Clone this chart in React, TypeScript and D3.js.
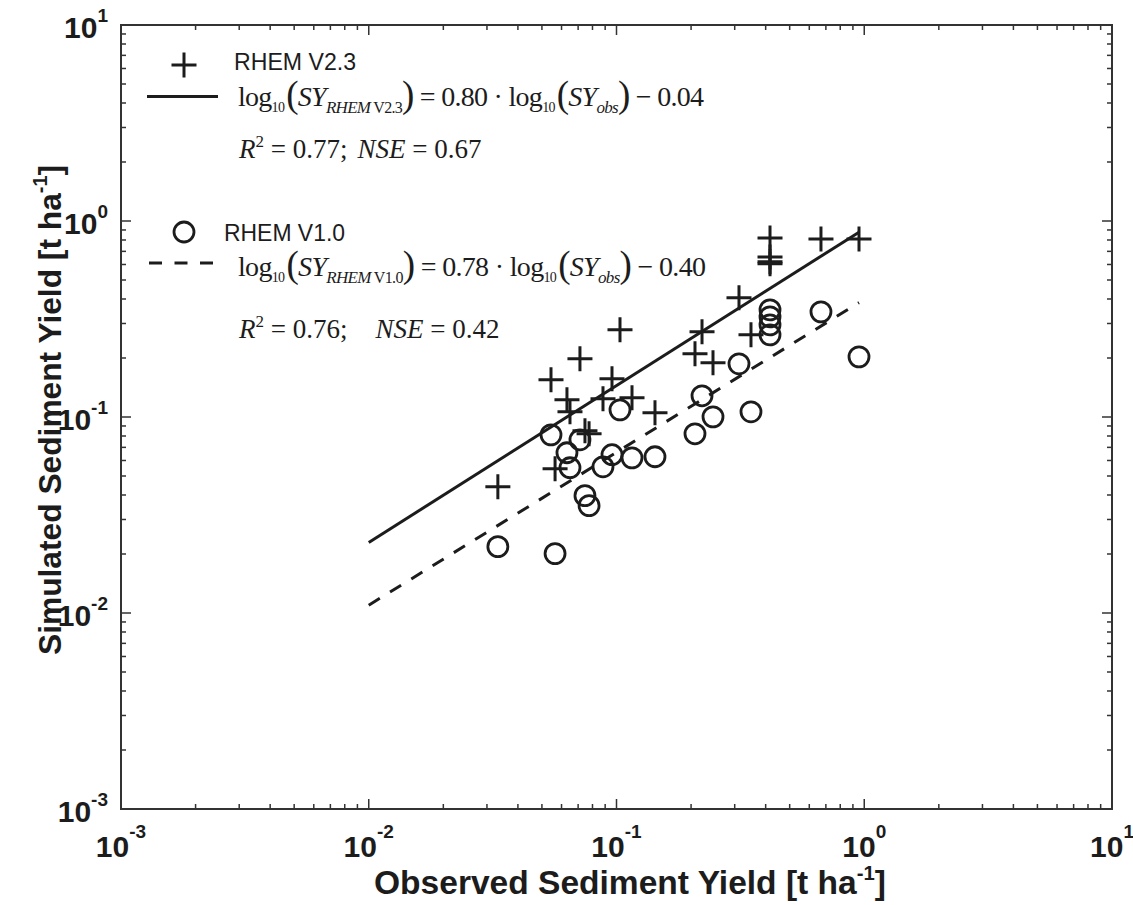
import React from "react";
import * as d3 from "d3";

// observed sediment yield (t/ha) for each plot, shared by both model runs
const observed = [
  0.0332, 0.0544, 0.0565, 0.0631, 0.0649, 0.0712, 0.0746, 0.0775, 0.0882, 0.0959, 0.1033, 0.1155,
  0.143, 0.2074, 0.2214, 0.2452, 0.3122, 0.349, 0.4165, 0.4165, 0.4165, 0.4165, 0.6688, 0.9524,
];
// simulated by RHEM V2.3 (crosses)
const simV23 = [
  0.0441, 0.1547, 0.0544, 0.1224, 0.1063, 0.198, 0.0851, 0.0821, 0.1238, 0.1566, 0.2784, 0.1253,
  0.1051, 0.2101, 0.272, 0.189, 0.4054, 0.2626, 0.82, 0.6559, 0.6043, 0.6187, 0.8102, 0.8102,
];
// simulated by RHEM V1.0 (circles)
const simV10 = [
  0.0218, 0.0811, 0.0201, 0.0657, 0.0551, 0.0765, 0.0397, 0.0353, 0.0557, 0.0642, 0.1088, 0.0619,
  0.0627, 0.0821, 0.1283, 0.1002, 0.1868, 0.1063, 0.3521, 0.3243, 0.2953, 0.2626, 0.3439, 0.2028,
];
const fitV23 = { slope: 0.8, intercept: -0.04 };
const fitV10 = { slope: 0.78, intercept: -0.4 };
const fitStart = 0.01;
const axisDomain = [1e-3, 1e1];
const decades = [-3, -2, -1, 0, 1];

const SANS = "'Liberation Sans', Arial, sans-serif";
const SERIF = "'Liberation Serif', 'Times New Roman', serif";
const INK = "#1c1c1c";

function Cross({ cx, cy, s = 12.5 }: { cx: number; cy: number; s?: number }) {
  return (
    <path
      d={`M${cx - s},${cy}h${2 * s}M${cx},${cy - s}v${2 * s}`}
      stroke={INK}
      strokeWidth={3}
      fill="none"
    />
  );
}

function Equation({ x, y, sub, slope, icpt, len }: any) {
  return (
    <text x={x} y={y} fontFamily={SERIF} fontSize={28} fill={INK} textLength={len} lengthAdjust="spacing">
      log
      <tspan fontSize={14} dy={6}>10</tspan>
      <tspan fontSize={37} dy={-5} dx={2}>(</tspan>
      <tspan fontStyle="italic" dy={-1}>SY</tspan>
      <tspan fontSize={17} dy={7} fontStyle="italic">RHEM</tspan>
      <tspan fontSize={16}> {sub}</tspan>
      <tspan fontSize={37} dy={-6}>)</tspan>
      <tspan dy={-1}>{` = ${slope} · log`}</tspan>
      <tspan fontSize={14} dy={6}>10</tspan>
      <tspan fontSize={37} dy={-5} dx={2}>(</tspan>
      <tspan fontStyle="italic" dy={-1}>SY</tspan>
      <tspan fontSize={17} dy={7} fontStyle="italic">obs</tspan>
      <tspan fontSize={37} dy={-6}>)</tspan>
      <tspan dy={-1}>{` − ${icpt}`}</tspan>
    </text>
  );
}

function Stats({ x, y, r2, nse, gap }: any) {
  return (
    <text x={x} y={y} fontFamily={SERIF} fontSize={27} fill={INK}>
      <tspan fontStyle="italic">R</tspan>
      <tspan fontSize={17} dy={-11}>2</tspan>
      <tspan dy={11}>{` = ${r2};`}</tspan>
      <tspan dx={gap} fontStyle="italic">NSE</tspan>
      <tspan>{` = ${nse}`}</tspan>
    </text>
  );
}

export default function App() {
  const left = 121, right = 1112, top = 25, bottom = 809;
  const x = d3.scaleLog().domain(axisDomain).range([left, right]);
  const y = d3.scaleLog().domain(axisDomain).range([bottom, top]);
  const ticks = x.ticks();
  const isMajor = (t: number) => Math.abs(Math.log10(t) - Math.round(Math.log10(t))) < 1e-9;

  const fitLine = (f: { slope: number; intercept: number }) => {
    const xs = [fitStart, d3.max(observed) as number];
    return d3
      .line<number>()
      .x((d) => x(d))
      .y((d) => y(Math.pow(10, f.slope * Math.log10(d) + f.intercept)))(xs) as string;
  };

  return (
    <svg
      width={1133}
      height={905}
      style={{ position: "absolute", left: 0, top: 0, background: "#fff" }}
    >
      <rect x={0} y={0} width={1133} height={905} fill="#fff" />

      {/* ticks on all four sides, pointing inward */}
      {ticks.map((t, i) => {
        const L = isMajor(t) ? 10 : 5;
        const px = x(t), py = y(t);
        return (
          <g key={i} stroke="#333" strokeWidth={1.5}>
            <line x1={px} x2={px} y1={bottom} y2={bottom - L} />
            <line x1={px} x2={px} y1={top} y2={top + L} />
            <line x1={left} x2={left + L} y1={py} y2={py} />
            <line x1={right} x2={right - L} y1={py} y2={py} />
          </g>
        );
      })}
      <rect x={left} y={top} width={right - left} height={bottom - top} fill="none" stroke="#333" strokeWidth={2} />

      {/* tick labels */}
      {decades.map((e) => (
        <text key={"x" + e} x={x(Math.pow(10, e))} y={857} textAnchor="middle" fontFamily={SANS} fontWeight="bold" fontSize={30} fill={INK}>
          10<tspan fontSize={19} dy={-19}>{e < 0 ? "-" + -e : e}</tspan>
        </text>
      ))}
      {decades.map((e) => (
        <text key={"y" + e} x={108} y={y(Math.pow(10, e)) + 13} textAnchor="end" fontFamily={SANS} fontWeight="bold" fontSize={30} fill={INK}>
          10<tspan fontSize={19} dy={-16}>{e < 0 ? "-" + -e : e}</tspan>
        </text>
      ))}

      {/* axis titles */}
      <text x={630} y={894} textAnchor="middle" fontFamily={SANS} fontWeight="bold" fontSize={33} fill={INK} textLength={512} lengthAdjust="spacingAndGlyphs">
        Observed Sediment Yield [t ha<tspan fontSize={20} dy={-14}>-1</tspan><tspan dy={14}>]</tspan>
      </text>
      <text transform="translate(61,410) rotate(-90)" textAnchor="middle" fontFamily={SANS} fontWeight="bold" fontSize={32} fill={INK} textLength={490} lengthAdjust="spacingAndGlyphs">
        Simulated Sediment Yield [t ha<tspan fontSize={20} dy={-14}>-1</tspan><tspan dy={14}>]</tspan>
      </text>

      {/* regression lines */}
      <path d={fitLine(fitV23)} stroke={INK} strokeWidth={3} fill="none" />
      <path d={fitLine(fitV10)} stroke={INK} strokeWidth={3} fill="none" strokeDasharray="13,12" />

      {/* points */}
      {observed.map((o, i) => (
        <Cross key={"c" + i} cx={x(o)} cy={y(simV23[i])} />
      ))}
      {observed.map((o, i) => (
        <circle key={"o" + i} cx={x(o)} cy={y(simV10[i])} r={10} fill="none" stroke={INK} strokeWidth={2.8} />
      ))}

      {/* legend */}
      <Cross cx={184} cy={65} />
      <text x={234} y={70} fontFamily={SANS} fontSize={24} fill={INK} textLength={122} lengthAdjust="spacingAndGlyphs">RHEM V2.3</text>
      <line x1={147} x2={218} y1={96.5} y2={96.5} stroke={INK} strokeWidth={3} />
      <Equation x={238} y={106} sub="V2.3" slope="0.80" icpt="0.04" len={466} />
      <Stats x={239} y={158} r2="0.77" nse="0.67" gap={10} />

      <circle cx={184} cy={232} r={10} fill="none" stroke={INK} strokeWidth={2.8} />
      <text x={224} y={241} fontFamily={SANS} fontSize={24} fill={INK} textLength={121} lengthAdjust="spacingAndGlyphs">RHEM V1.0</text>
      <line x1={149} x2={218} y1={263} y2={263} stroke={INK} strokeWidth={3} strokeDasharray="13,12.5" />
      <Equation x={238} y={276} sub="V1.0" slope="0.78" icpt="0.40" len={468} />
      <Stats x={239} y={338} r2="0.76" nse="0.42" gap={28} />
    </svg>
  );
}
